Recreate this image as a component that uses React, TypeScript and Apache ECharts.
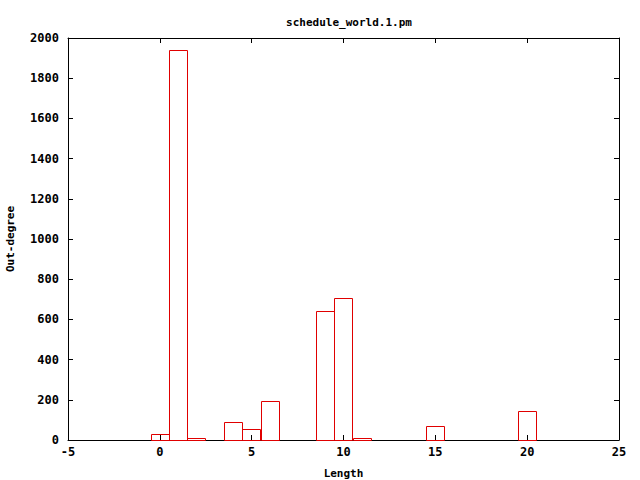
import React, { useEffect, useRef } from "react";
import * as echarts from "echarts";

const lengths = [0, 1, 2, 4, 5, 6, 9, 10, 11, 15, 20];
const outDegree = [30, 1940, 8, 88, 55, 193, 642, 705, 8, 68, 143];
const xTicks = { min: -5, max: 25, interval: 5 };
const yTicks = { min: 0, max: 2000, interval: 200 };

const FONT = "DejaVu Sans Mono";
const RED = "#e00000";

export default function App() {
  const ref = useRef<HTMLDivElement>(null);
  useEffect(() => {
    if (!ref.current) return;
    const chart = echarts.init(ref.current, undefined, { renderer: "svg" });
    const data = lengths.map((x, i) => [x, outDegree[i]]);
    const tickStyle = { show: true, inside: true, length: 5, lineStyle: { color: "#000", width: 1 } };
    const lineStyle = { show: true, onZero: false, lineStyle: { color: "#000", width: 1 } };
    const labelStyle = { fontFamily: FONT, fontSize: 12, fontWeight: "bold", color: "#000" };
    chart.setOption({
      animation: false,
      backgroundColor: "#fff",
      title: {
        text: "schedule_world.1.pm",
        left: 344,
        textAlign: "center",
        top: 12,
        textStyle: { ...labelStyle, fontSize: 11 },
      },
      grid: { left: 68, right: 21, top: 38, bottom: 40, containLabel: false, outerBoundsMode: "none" },
      xAxis: [
        {
          type: "value",
          position: "bottom",
          ...xTicks,
          name: "Length",
          nameLocation: "middle",
          nameGap: 28,
          nameTextStyle: { ...labelStyle, fontSize: 11 },
          axisLine: lineStyle,
          axisTick: tickStyle,
          splitLine: { show: false },
          axisLabel: { ...labelStyle, margin: 6, formatter: (v: number) => String(v) },
        },
        {
          type: "value",
          position: "top",
          ...xTicks,
          axisLine: lineStyle,
          axisTick: tickStyle,
          splitLine: { show: false },
          axisLabel: { show: false },
        },
      ],
      yAxis: [
        {
          type: "value",
          position: "left",
          ...yTicks,
          name: "Out-degree",
          nameLocation: "middle",
          nameGap: 52,
          nameRotate: 90,
          nameTextStyle: { ...labelStyle, fontSize: 11 },
          axisLine: lineStyle,
          axisTick: tickStyle,
          splitLine: { show: false },
          axisLabel: { ...labelStyle, margin: 9, formatter: (v: number) => String(v) },
        },
        {
          type: "value",
          position: "right",
          ...yTicks,
          axisLine: lineStyle,
          axisTick: tickStyle,
          splitLine: { show: false },
          axisLabel: { show: false },
        },
      ],
      series: [
        {
          type: "custom",
          xAxisIndex: 0,
          yAxisIndex: 0,
          data,
          z: 5,
          silent: true,
          itemStyle: { color: RED },
          renderItem: (params: any, api: any) => {
            const x = api.value(0);
            const y = api.value(1);
            const p1 = api.coord([x - 0.5, y]);
            const p2 = api.coord([x + 0.5, 0]);
            return {
              type: "rect",
              shape: {
                x: Math.round(p1[0]) + 0.5,
                y: Math.round(p1[1]) + 0.5,
                width: Math.round(p2[0] - p1[0]),
                height: Math.round(p2[1] - p1[1]),
              },
              style: { fill: "rgba(255,255,255,0)", stroke: RED, lineWidth: 1 },
            };
          },
        },
      ],
    });
    return () => chart.dispose();
  }, []);
  return <div ref={ref} style={{ width: 640, height: 480, position: "absolute", left: 0, top: 0 }} />;
}
